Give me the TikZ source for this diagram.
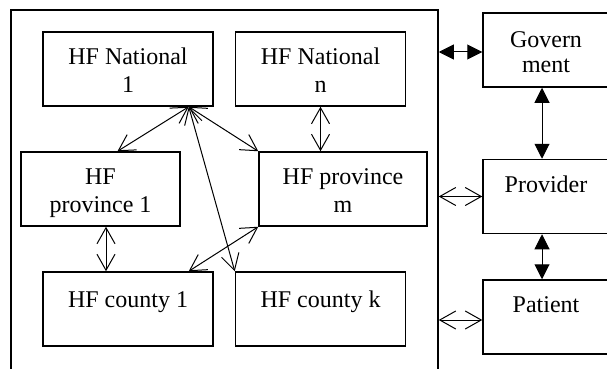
\documentclass[tikz,border=0pt]{standalone}
\usepackage{fontspec}
\setmainfont{Liberation Serif}
\usetikzlibrary{arrows.meta}

\begin{document}
\begin{tikzpicture}[x=1pt, y=-1pt]
        % Setup the styles for the boxes, texts and arrows
        \tikzset{box style/.style={draw, line width=1.5pt,
                                    minimum width=#1,
                                    minimum height=74pt},
                 box style/.default=170pt,
                 text style/.style={anchor=north, inner sep=0pt,
                                    align=center, yshift=-13.5pt,
                                    font=\fontsize{24}{28}\selectfont},
                 open tips/.style={line width=1pt, <->,
                                   >={Straight Barb[length=16pt,width=18pt]}},
                 solid tips/.style={line width=1pt, <->,
                                    >={Triangle[length=15pt,width=15pt]}}}

        \useasboundingbox (0,0) rectangle (607,369);
        \clip (0,0) rectangle (607,369);

        % Draw the frame and the boxes
        \node[box style=427pt, minimum height=420pt] at (224.5,220) (sys) {};
        \node[box style] at (128,69)   (nat1) {};
        \node[box style] at (320.5,69) (natn) {};
        \node[box style=159pt] at (100.5,189) (prov1) {};
        \node[box style=168pt] at (343,189)   (provm) {};
        \node[box style] at (128,309)   (cty1) {};
        \node[box style] at (320.5,309) (ctyk) {};
        \node[box style=126pt] at (546,50)    (gov) {};
        \node[box style=126pt] at (546,196.5) (prov) {};
        \node[box style=126pt] at (546,317)   (pat) {};

        % Put the texts in the boxes
        \node[text style] at (nat1.north)  (nat1 text)  {\strut HF National\\1};
        \node[text style] at (natn.north)  (natn text)  {\strut HF National\\n};
        \node[text style] at (prov1.north) (prov1 text) {\strut HF\\province 1};
        \node[text style] at (provm.north) (provm text) {\strut HF province\\m};
        \node[text style, yshift=-2.5pt] at (cty1.north) (cty1 text) {\strut HF county 1};
        \node[text style, yshift=-2.5pt] at (ctyk.north) (ctyk text) {\strut HF county k};
        \node[text style, font=\fontsize{24}{25}\selectfont, yshift=-4pt]
            at (gov.north) (gov text) {\strut Govern\\ment};
        \node[text style] at (prov.north)  (prov text)  {\strut Provider};
        \node[text style] at (pat.north)   (pat text)   {\strut Patient};

        \coordinate (hub) at ([xshift=-25pt]nat1.south east);

        % Connect the boxes with arrows
        \path[open tips]
            (hub)   edge ([xshift=17pt]prov1.north)
            (hub)   edge (provm.north west)
            (hub)   edge (ctyk.north west)
            (provm.south west) edge ([xshift=-25pt]cty1.north east)
            (natn.south)       edge (natn.south |- provm.north)
            ([xshift=5.5pt]prov1.south) edge ([xshift=5.5pt]prov1.south |- cty1.north)
            (sys.east |- prov.west) edge (prov.west)
            ([yshift=-3pt]sys.east |- pat.west) edge ([yshift=-3pt]pat.west);
        \path[solid tips]
            ([yshift=-2pt]sys.east |- gov.west) edge ([yshift=-2pt]gov.west)
            ([xshift=-4pt]gov.south)  edge ([xshift=-4pt]prov.north)
            ([xshift=-4pt]prov.south) edge ([xshift=-4pt]pat.north);
\end{tikzpicture}
\end{document}
